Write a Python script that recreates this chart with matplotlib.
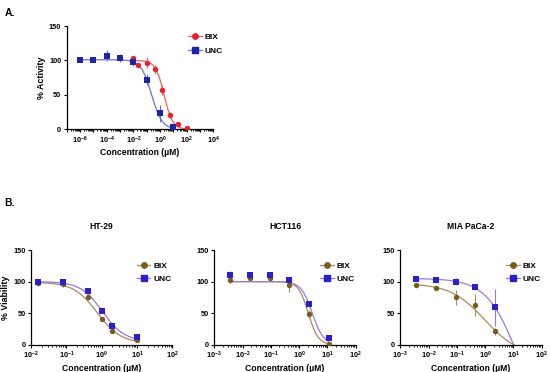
import matplotlib
matplotlib.use("Agg")
import matplotlib.pyplot as plt
import matplotlib.ticker as mticker
import numpy as np

plt.rcParams['font.family'] = ['Liberation Sans', 'DejaVu Sans']
plt.rcParams['font.weight'] = 'bold'
plt.rcParams['mathtext.default'] = 'regular'

# ---- panel A: activity ----
a_bix_x = [0.01, 0.023, 0.1, 0.4, 1.5, 5.6, 23, 100]
a_bix_y = [104, 93, 97, 87, 57, 21, 7, 2]
a_bix_err = [2, 3, 8, 6, 7, 4, 2, 2]
a_unc_x = [1e-6, 1e-5, 1e-4, 1e-3, 1e-2, 1e-1, 1, 10]
a_unc_y = [100.5, 100.5, 107, 104, 97.5, 72, 23, 3.5]
a_unc_err = [2, 3, 8, 6, 5, 8, 12, 1]
# fit params: top, bottom, ic50, hill
a_bix_fit = [100, 0, 2.0, 1.35]
a_unc_fit = [101, 0, 0.23, 1.1]

# ---- panel B: viability ----
cells = ["HT-29", "HCT116", "MIA PaCa-2"]
ht29_x = [0.016, 0.08, 0.4, 1, 2, 10]
ht29_bix = [98, 96, 76, 40, 21, 7]
ht29_bix_err = [4, 5, 5, 2, 2, 2]
ht29_unc = [100, 100, 85, 53, 30, 12]
ht29_unc_err = [2, 2, 3, 2, 2, 3]
ht29_bix_fit = [99, 2, 0.75, 1.3]
ht29_unc_fit = [100, 5, 1.05, 1.4]

hct_x = [0.0035, 0.018, 0.09, 0.45, 2.2, 11]
hct_bix = [103, 106, 106, 95, 49, 1]
hct_bix_err = [6, 4, 4, 12, 6, 1]
hct_unc = [111, 110, 111, 103, 65, 10]
hct_unc_err = [6, 5, 5, 2, 2, 2]
hct_bix_fit = [100, 0, 2.1, 2.5]
hct_unc_fit = [100, 0, 2.9, 2.2]

mia_x = [0.0035, 0.018, 0.09, 0.44, 2.2]
mia_bix = [95, 90, 75, 63, 21]
mia_bix_err = [2, 2, 12, 17, 5]
mia_unc = [104, 103, 100, 91, 59]
mia_unc_err = [2, 5, 5, 5, 29]
mia_bix_fit = [97, -18, 0.96, 0.72]
mia_unc_fit = [105, -150, 15.9, 0.77]

red, red_line = "#e8202a", "#f06060"
blue, blue_line = "#1f23a8", "#6a74d0"
brown, brown_line = "#7a5a1e", "#a88a60"
ublue, ublue_line = "#2a20cc", "#9a7ad8"


def logistic(x, p):
    top, bottom, ic50, hill = p
    return bottom + (top - bottom) / (1 + (x / ic50) ** hill)


def series(ax, x, y, err, fit, xr, marker, color, lcolor, label):
    ms = 3.9
    xs = np.logspace(np.log10(xr[0]), np.log10(xr[1]), 300)
    ax.plot(xs, logistic(xs, fit), color=lcolor, lw=0.9, zorder=2)
    ax.errorbar(x, y, yerr=err, fmt=marker, color=color, ms=ms, mew=0,
                ecolor=lcolor, elinewidth=0.8, capsize=1.8, capthick=0.8, zorder=3)
    ax.plot([], [], marker=marker, color=lcolor, mfc=color, mec=color, ms=ms, lw=0.9,
            label=label)


def style(ax, lo, hi, every, legend_pos):
    ax.set_xscale('log')
    ax.set_xlim(lo, hi)
    ax.set_ylim(0, 150)
    ax.set_yticks([0, 50, 100, 150])
    ax.xaxis.set_major_locator(mticker.LogLocator(base=10, numticks=20))
    ax.xaxis.set_minor_locator(mticker.LogLocator(base=10, subs=np.arange(2, 10), numticks=20))
    ax.xaxis.set_minor_formatter(mticker.NullFormatter())
    ax.xaxis.set_major_formatter(mticker.FuncFormatter(
        lambda v, pos: r'$10^{%d}$' % round(np.log10(v)) if round(np.log10(v)) % every == 0 else ''))
    for s in ['top', 'right']:
        ax.spines[s].set_visible(False)
    for s in ['left', 'bottom']:
        ax.spines[s].set_linewidth(0.9)
    ax.tick_params(axis='both', which='major', labelsize=5.2, length=2.5, width=0.8, pad=1.5)
    ax.tick_params(axis='x', which='minor', length=1.5, width=0.6)
    ax.set_xlabel("Concentration (µM)", fontsize=6.2, fontweight='bold', labelpad=1.5)
    ax.legend(loc='upper left', bbox_to_anchor=legend_pos, frameon=False, fontsize=6,
              handlelength=1.6, handletextpad=0.4, labelspacing=0.7, borderpad=0)


fig = plt.figure(figsize=(5.5, 3.72), dpi=100)

axA = fig.add_axes([0.1213, 0.6524, 0.2667, 0.2777])
series(axA, a_bix_x, a_bix_y, a_bix_err, a_bix_fit, [0.01, 100], 'o', red, red_line, "BIX")
series(axA, a_unc_x, a_unc_y, a_unc_err, a_unc_fit, [1e-6, 10], 's', blue, blue_line, "UNC")
style(axA, 1e-7, 1e4, 2, (0.80, 0.97))
axA.set_ylabel("% Activity", fontsize=6.4, fontweight='bold', labelpad=2)

panels = [
    (0.0564, ht29_x, ht29_bix, ht29_bix_err, ht29_unc, ht29_unc_err, ht29_bix_fit, ht29_unc_fit,
     [0.016, 10], [0.016, 10], 1e-2),
    (0.3896, hct_x, hct_bix, hct_bix_err, hct_unc, hct_unc_err, hct_bix_fit, hct_unc_fit,
     [0.0035, 11], [0.0035, 11], 1e-3),
    (0.7278, mia_x, mia_bix, mia_bix_err, mia_unc, mia_unc_err, mia_bix_fit, mia_unc_fit,
     [0.0035, 12], [0.0035, 12], 1e-3),
]
for i, (left, x, b, be, u, ue, bf, uf, br, ur, lo) in enumerate(panels):
    ax = fig.add_axes([left, 0.0737, 0.2572, 0.2540])
    series(ax, x, b, be, bf, br, 'o', brown, brown_line, "BIX")
    series(ax, x, u, ue, uf, ur, 's', ublue, ublue_line, "UNC")
    style(ax, lo, 100, 1, (0.72, 0.92))
    ax.set_title(cells[i], fontsize=6.2, fontweight='bold', pad=15)
    if i == 0:
        ax.set_ylabel("% Viability", fontsize=6.4, fontweight='bold', labelpad=2)

fig.text(0.008, 0.965, "A.", fontsize=7.5, fontweight='bold', va='center')
fig.text(0.008, 0.455, "B.", fontsize=7.5, fontweight='bold', va='center')

fig.savefig("out.png", dpi=100)
